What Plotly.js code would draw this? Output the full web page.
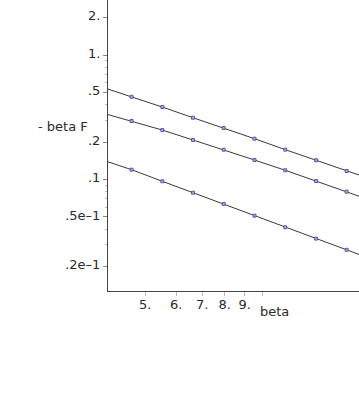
<!DOCTYPE html>
<html>
<head>
<meta charset="utf-8">
<script src="https://cdn.plot.ly/plotly-3.0.1.min.js"></script>
<style>html,body{margin:0;padding:0;background:#fff;}#chart{width:359px;height:400px;}</style>
</head>
<body>
<div id="chart"></div>
<script>
// beta values at which points were computed
const betaPoints = [4.61, 5.53, 6.63, 7.95, 9.54, 11.44, 13.73, 16.45];
// - beta F for the three curves
const curve1 = [0.462, 0.382, 0.3135, 0.2595, 0.2127, 0.1737, 0.1427, 0.1170];
const curve2 = [0.295, 0.2497, 0.2076, 0.1735, 0.1434, 0.1186, 0.0972, 0.0798];
const curve3 = [0.1199, 0.0967, 0.0783, 0.0636, 0.0512, 0.0413, 0.0335, 0.0272];
// continuous curves extend beyond the sampled points
const lineStartBeta = 4.0;
const lineEndBeta = 18.0;
const curveStart = [0.534, 0.333, 0.139];
const curveEnd = [0.1067, 0.072, 0.0245];

const xTickVals = [5, 6, 7, 8, 9, 10];
const xTickText = ['5.', '6.', '7.', '8.', '9.', ''];
const yTickVals = [2, 1, 0.5, 0.2, 0.1, 0.05, 0.02];
const yTickText = ['2.', '1.', '.5', '.2', '.1', '.5e\u20131', '.2e\u20131'];
const yMinorVals = [0.9, 0.8, 0.7, 0.6, 0.4, 0.3, 0.09, 0.08, 0.07, 0.06, 0.04, 0.03];

const curves = [curve1, curve2, curve3];
const traces = [];
curves.forEach((c, i) => {
  traces.push({
    x: [lineStartBeta].concat(betaPoints, [lineEndBeta]),
    y: [curveStart[i]].concat(c, [curveEnd[i]]),
    mode: 'lines', line: {color: '#3a3a3a', width: 1},
    hoverinfo: 'skip', showlegend: false
  });
});
curves.forEach((c) => {
  traces.push({
    x: betaPoints, y: c, mode: 'markers',
    marker: {symbol: 'square', size: 3, color: '#a8a8d8', line: {color: '#5050a8', width: 0.9}},
    showlegend: false
  });
});

const font = {family: 'DejaVu Sans', size: 13, color: '#2a2a2a'};
const layout = {
  width: 359, height: 400,
  margin: {l: 108, r: 0, t: 0, b: 109, pad: 0},
  paper_bgcolor: '#fff', plot_bgcolor: '#fff',
  font: font,
  showlegend: false,
  xaxis: {
    type: 'log', range: [Math.log10(4.01), Math.log10(17.7)],
    tickmode: 'array', tickvals: xTickVals, ticktext: xTickText,
    ticks: 'outside', ticklen: 4, tickcolor: '#bbb', tickwidth: 1,
    ticklabelstandoff: -3,
    showline: true, linecolor: '#444', linewidth: 1,
    showgrid: false, zeroline: false, tickfont: font
  },
  yaxis: {
    type: 'log', range: [Math.log10(0.0127), Math.log10(2.77)],
    tickmode: 'array', tickvals: yTickVals, ticktext: yTickText,
    ticks: 'outside', ticklen: 4, tickcolor: '#888', tickwidth: 1,
    ticklabelshift: -2,
    minor: {tickmode: 'array', tickvals: yMinorVals, ticks: 'outside', ticklen: 2.5, tickcolor: '#bbb', showgrid: false},
    showline: true, linecolor: '#444', linewidth: 1,
    showgrid: false, zeroline: false, tickfont: font
  },
  annotations: [
    {text: '- beta F', xref: 'paper', yref: 'y', x: -0.072, y: Math.log10(0.269),
     xanchor: 'right', yanchor: 'middle', showarrow: false, font: font},
    {text: 'beta', xref: 'x', yref: 'paper', x: 1, y: -0.072, xshift: -4,
     xanchor: 'left', yanchor: 'middle', showarrow: false, font: font}
  ]
};
Plotly.newPlot('chart', traces, layout, {staticPlot: true, displayModeBar: false});
</script>
</body>
</html>
